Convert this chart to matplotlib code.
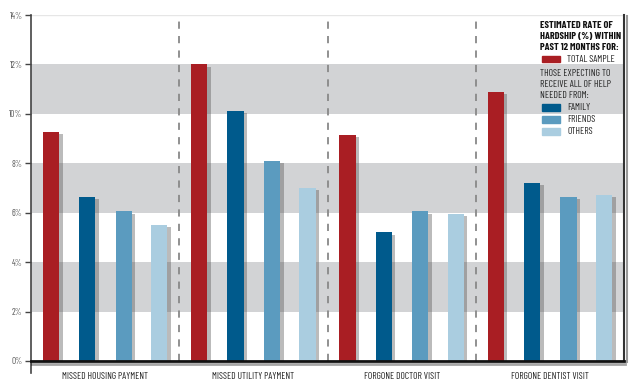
import matplotlib
matplotlib.use("Agg")
import matplotlib.pyplot as plt
import matplotlib.patheffects as pe
from matplotlib.patches import Rectangle
import numpy as np

categories = ["MISSED HOUSING PAYMENT", "MISSED UTILITY PAYMENT",
              "FORGONE DOCTOR VISIT", "FORGONE DENTIST VISIT"]
series_names = ["TOTAL SAMPLE", "FAMILY", "FRIENDS", "OTHERS"]
total_sample = [9.25, 12.0, 9.15, 10.9]
family = [6.65, 10.1, 5.2, 7.2]
friends = [6.05, 8.1, 6.05, 6.65]
others = [5.5, 7.0, 5.95, 6.7]
yticks = [0, 2, 4, 6, 8, 10, 12, 14]
ytick_labels = ["0%", "2%", "4%", "6%", "8%", "10%", "12%", "14%"]

colors = ["#A91E23", "#005A8C", "#5B9BBF", "#AACDE0"]
band = "#D2D3D5"

plt.rcParams['font.family'] = ['Barlow Condensed', 'Roboto Condensed', 'Liberation Sans', 'DejaVu Sans']

W, H = 640, 389
fig = plt.figure(figsize=(W / 100, H / 100), dpi=100)
ax = fig.add_axes([31 / W, 1 - 361 / H, (624 - 31) / W, (361 - 15) / H])

x = np.arange(len(categories))
offsets = [-0.365, -0.12, 0.125, 0.365]
bw = 0.11
shadow = [pe.SimplePatchShadow(offset=(2.5, -1.5), shadow_rgbFace="#555555", alpha=0.4), pe.Normal()]
for vals, off, col in zip([total_sample, family, friends, others], offsets, colors):
    bars = ax.bar(x + off, vals, width=bw, color=col, zorder=3)
    for b in bars:
        b.set_path_effects(shadow)

# grey bands
for lo in [2, 6, 10]:
    ax.axhspan(lo, lo + 2, color=band, zorder=0, lw=0)
ax.axhline(14, color="#E6E6E6", lw=1, zorder=1)

# dashed separators
for xv in [0.5, 1.5, 2.5]:
    ax.axvline(xv, color="#888888", lw=1.3, ls=(0, (4, 4)), zorder=2)

ax.set_xlim(-0.5, 3.5)
ax.set_ylim(0, 14)
ax.set_yticks(yticks)
ax.set_yticklabels(ytick_labels, fontsize=6.5, color="#555555")
ax.set_xticks(x)
ax.set_xticklabels(categories, fontsize=6.9, color="#222222")
ax.tick_params(axis='x', length=0, pad=8)
ax.tick_params(axis='y', length=4, width=1, color="#444444", pad=2)

ax.spines["top"].set_visible(False)
ax.spines["left"].set_color("#444444")
ax.spines["left"].set_linewidth(1.2)
ax.spines["left"].set_bounds(-0.5, 14)
ax.spines["bottom"].set_color("#111111")
ax.spines["bottom"].set_linewidth(2)
ax.spines["bottom"].set_zorder(5)
ax.spines["bottom"].set_path_effects([pe.SimpleLineShadow(offset=(1, -2), alpha=0.35), pe.Normal()])
ax.spines["right"].set_color("#333333")
ax.spines["right"].set_linewidth(1.5)
ax.spines["right"].set_path_effects([pe.SimpleLineShadow(offset=(2, -1), alpha=0.4), pe.Normal()])

# legend
def fx(px):
    return px / W

def fy(py):
    return 1 - py / H

title_lines = ["ESTIMATED RATE OF", "HARDSHIP (%) WITHIN", "PAST 12 MONTHS FOR:"]
for i, t in enumerate(title_lines):
    fig.text(fx(540), fy(25 + i * 11.5), t, fontsize=7.3, fontweight="bold",
             color="#111111", va="center", ha="left")
fig.patches.append(Rectangle((fx(542), fy(62)), fx(560) - fx(542), fy(56) - fy(62),
                             transform=fig.transFigure, color=colors[0], figure=fig))
fig.text(fx(567), fy(59), series_names[0], fontsize=7, color="#222222", va="center")
sub_lines = ["THOSE EXPECTING TO", "RECEIVE ALL OF HELP", "NEEDED FROM:"]
for i, t in enumerate(sub_lines):
    fig.text(fx(540), fy(73 + i * 11.5), t, fontsize=7, color="#222222", va="center")
for i, (name, col) in enumerate(zip(series_names[1:], colors[1:])):
    yc = 107 + i * 12
    fig.patches.append(Rectangle((fx(542), fy(yc + 3.5)), fx(560) - fx(542), 7 / H,
                                 transform=fig.transFigure, color=col, figure=fig))
    fig.text(fx(567), fy(yc), name, fontsize=7, color="#222222", va="center")

fig.savefig("out.png", dpi=100)
